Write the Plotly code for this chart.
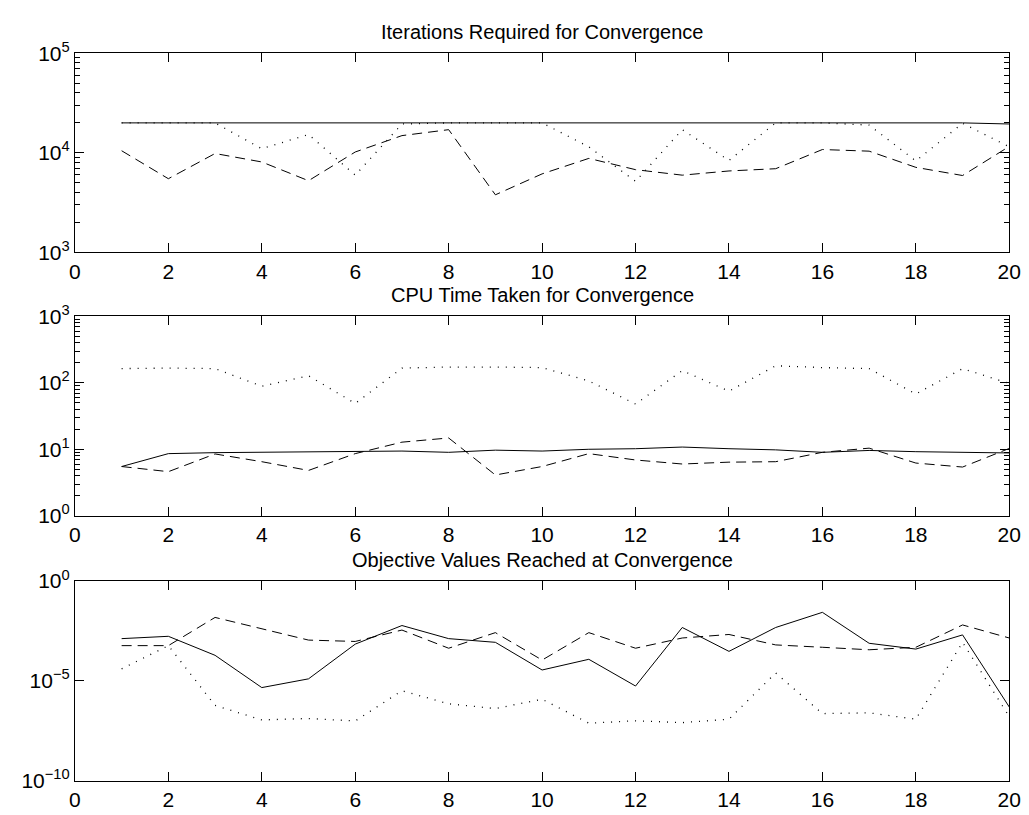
import plotly.graph_objects as go

x = list(range(1, 21))

# Panel 1: Iterations Required for Convergence
iter_solid = [20000]*19 + [19500]
iter_dashed = [10500, 5500, 9850, 8100, 5250, 10200, 14900, 17100, 3790, 6150,
               8800, 6780, 5970, 6580, 6930, 10800, 10400, 7150, 5920, 11600]
iter_dotted = [20000, 20000, 20000, 11000, 15300, 5970, 19500, 20000, 20000, 20000,
               11500, 5180, 17100, 8400, 20000, 20000, 19000, 8300, 19800, 11500]

# Panel 2: CPU Time Taken for Convergence
cpu_solid = [5.5, 8.6, 8.9, 9.0, 9.0, 9.2, 9.4, 9.0, 9.7, 9.4,
             10.0, 10.2, 10.8, 10.2, 9.8, 9.0, 9.6, 9.2, 9.0, 8.8]
cpu_dashed = [5.5, 4.6, 8.5, 6.5, 4.8, 8.6, 12.8, 14.8, 4.1, 5.5,
              8.6, 6.9, 6.0, 6.4, 6.5, 9.0, 10.4, 6.2, 5.4, 10.3]
cpu_dotted = [164, 167, 164, 89, 128, 49, 167, 173, 173, 170,
              107, 48, 153, 75, 181, 170, 164, 68, 164, 98]

# Panel 3: Objective Values Reached at Convergence
obj_solid = [1.3e-3, 1.7e-3, 1.9e-4, 4.6e-6, 1.26e-5, 6.9e-4, 5.9e-3, 1.3e-3, 8.5e-4, 3.5e-5,
             1.2e-4, 5.5e-6, 4.7e-3, 3.0e-4, 4.7e-3, 2.7e-2, 7.6e-4, 3.9e-4, 2.0e-3, 4.9e-7]
obj_dashed = [5.8e-4, 5.8e-4, 1.5e-2, 4.2e-3, 1.1e-3, 9.4e-4, 3.5e-3, 4.3e-4, 2.6e-3, 1.1e-4,
              2.6e-3, 4.3e-4, 1.4e-3, 2.1e-3, 6.3e-4, 4.8e-4, 3.6e-4, 4.8e-4, 6.3e-3, 1.4e-3]
obj_dotted = [4.0e-5, 5.8e-4, 5.9e-7, 1.1e-7, 1.3e-7, 9.8e-8, 3.2e-6, 7.1e-7, 4.1e-7, 1.2e-6,
              7.6e-8, 1.0e-7, 8.1e-8, 1.2e-7, 2.5e-5, 2.3e-7, 2.5e-7, 1.2e-7, 8.5e-4, 1.6e-7]

titles = ["Iterations Required for Convergence",
          "CPU Time Taken for Convergence",
          "Objective Values Reached at Convergence"]
x_ticks = list(range(0, 21, 2))

W, H = 1029, 815
FONT = "Liberation Sans, Arial, Helvetica, sans-serif"
xd = [62 / W, 1013 / W]
boxes = [(32.3, 237.7), (303.8, 509.3), (576.7, 782.7)]
ydoms = [[1 - b / H, 1 - t / H] for t, b in boxes]

panels = [
    (iter_solid, iter_dashed, iter_dotted, [3, 5], [3, 4, 5]),
    (cpu_solid, cpu_dashed, cpu_dotted, [0, 3], [0, 1, 2, 3]),
    (obj_solid, obj_dashed, obj_dotted, [-10, 0], [-10, -5, 0]),
]

fig = go.Figure()
styles = [("solid", 1), ("10px,6px", 1), ("1px,7px", 1.3)]
for i, (s, d, o, rng, exps) in enumerate(panels):
    ax = "" if i == 0 else str(i + 1)
    for ys, (dash, w) in zip((s, d, o), styles):
        fig.add_trace(go.Scatter(x=x, y=ys, mode="lines", xaxis="x" + ax, yaxis="y" + ax,
                                 line=dict(color="black", width=w, dash=dash),
                                 showlegend=False, hoverinfo="skip"))
    tv = [10.0 ** e for e in exps]
    tt = ["10<sup>%s</sup>" % (str(e).replace("-", "\u2212")) for e in exps]
    minor_vals = []
    if i < 2:
        for e in range(rng[0], rng[1]):
            minor_vals += [m * 10.0 ** e for m in range(2, 10)]
    common = dict(showline=True, linecolor="black", linewidth=1, mirror="ticks",
                  ticks="inside", ticklen=9, tickcolor="black", tickwidth=1,
                  showgrid=False, zeroline=False,
                  tickfont=dict(family=FONT, size=21, color="black"))
    fig.layout["xaxis" + ax] = dict(domain=xd, range=[0, 20], tickvals=x_ticks,
                                    anchor="y" + ax, **common)
    yax = dict(domain=ydoms[i], type="log", range=rng, tickvals=tv, ticktext=tt,
               anchor="x" + ax, **common)
    if minor_vals:
        yax["minor"] = dict(tickvals=minor_vals, ticks="inside", ticklen=5,
                            tickcolor="black", tickwidth=1, showgrid=False)
    fig.layout["yaxis" + ax] = yax
    fig.add_annotation(text=titles[i], xref="paper", yref="paper",
                       x=(xd[0] + xd[1]) / 2, y=ydoms[i][1], xanchor="center",
                       yanchor="bottom", yshift=8, showarrow=False,
                       font=dict(family=FONT, size=20, color="black"))

fig.update_layout(width=W, height=H, margin=dict(l=0, r=0, t=0, b=0),
                  paper_bgcolor="white", plot_bgcolor="white",
                  font=dict(family=FONT, size=20, color="black"))
fig.write_html("out.html")
